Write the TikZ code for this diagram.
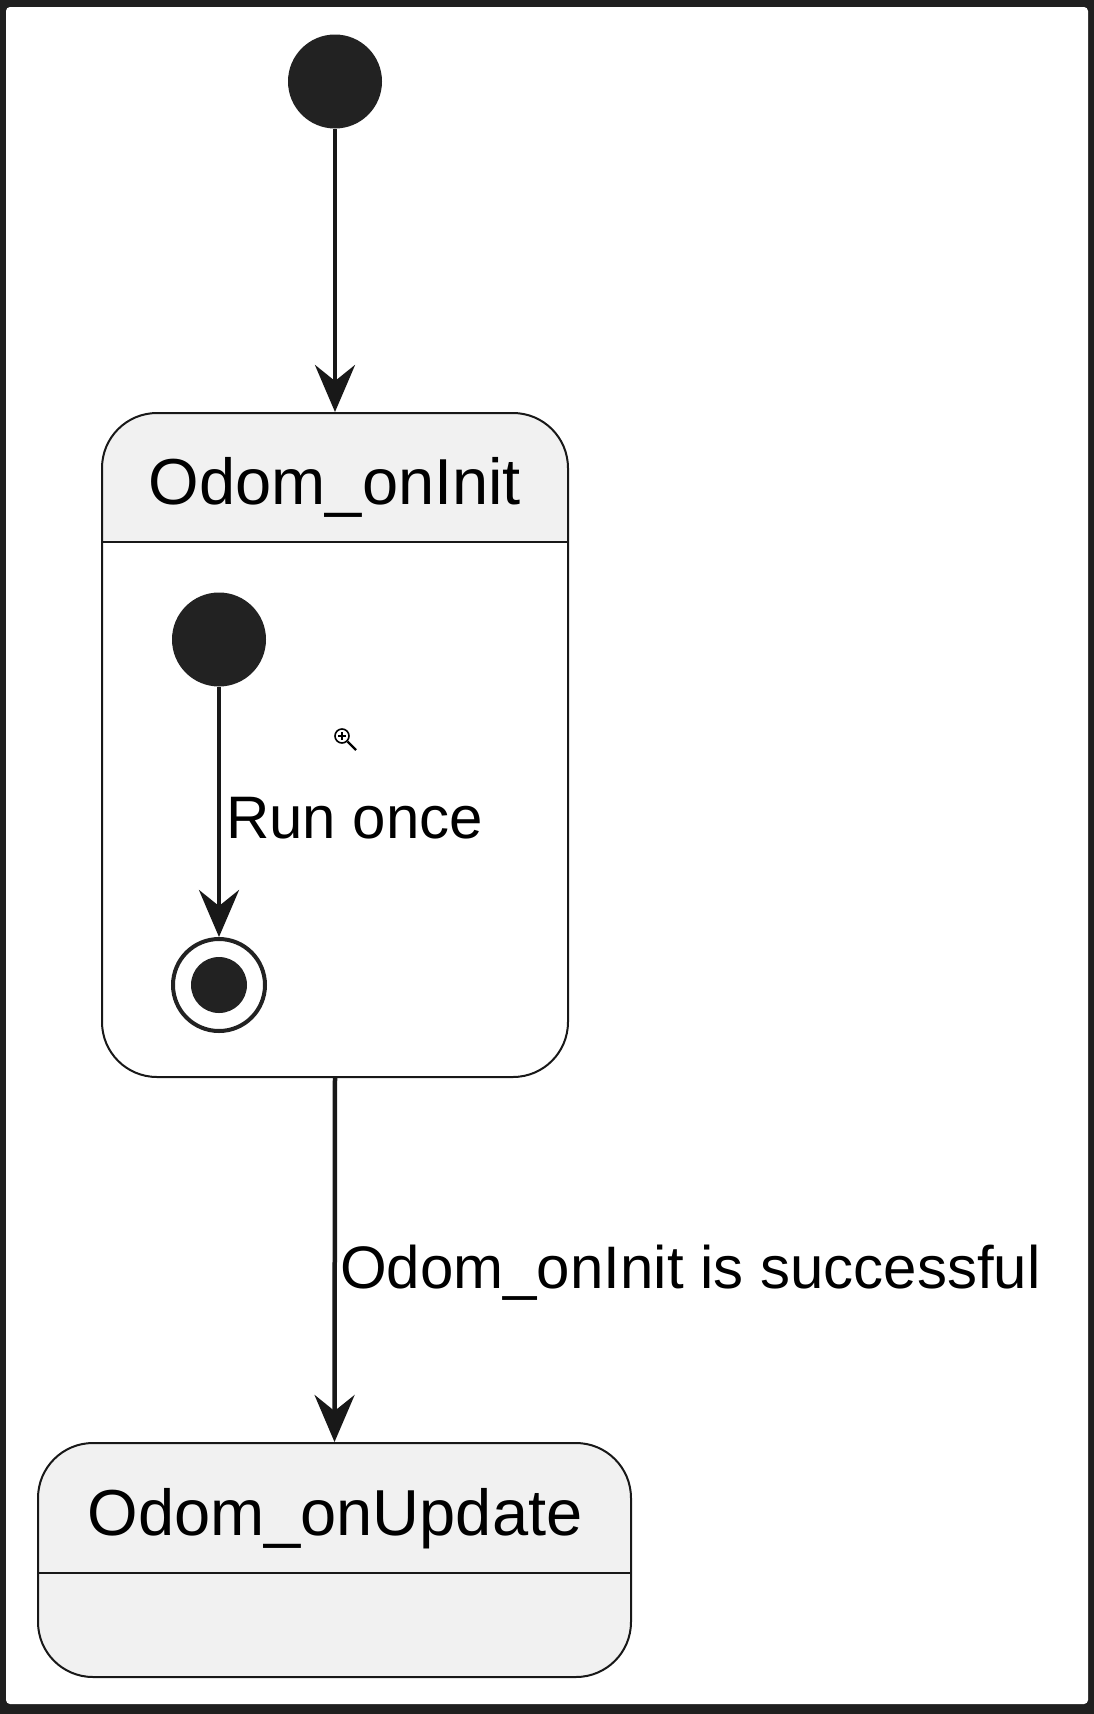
\documentclass[tikz,border=0pt]{standalone}
\usepackage{fontspec}
\setmainfont{Liberation Sans}
\usetikzlibrary{arrows.meta}
\definecolor{frame}{HTML}{1F1F1F}
\definecolor{ink}{HTML}{181818}
\definecolor{dot}{HTML}{222222}
\definecolor{hdr}{HTML}{F1F1F1}
\tikzset{
  initdot/.style={circle, fill=dot, draw=none, inner sep=0pt, minimum size=94pt},
  statebox/.style={draw=ink, line width=2pt, rounded corners=55pt, inner sep=0pt},
  titletext/.style={font=\fontsize{65}{78}\selectfont, inner sep=0pt, text=black},
  lbltext/.style={font=\fontsize{60}{72}\selectfont, inner sep=0pt, text=black},
  arr/.style={draw=ink, line width=4.5pt, -{Stealth[length=47pt,width=40pt,inset=16pt]}},
}
\begin{document}
\begin{tikzpicture}[x=1pt,y=-1pt]
\useasboundingbox (0,0) rectangle (1094,1714);
\fill[frame] (0,0) rectangle (1094,1714);
\fill[white, rounded corners=4pt] (6,7) rectangle (1088,1704);

% top initial
\node[initdot] (init1) at (335,81.5) {};

% Odom_onInit composite state
\node[statebox, fill=white, minimum width=466pt, minimum height=664pt,
  path picture={\fill[hdr, sharp corners] (path picture bounding box.north west) rectangle ([yshift=-129pt]path picture bounding box.north east);}]
  (oninit) at (335,745) {};
\draw[draw=ink, line width=2pt] (oninit.west |- 0,542) -- (oninit.east |- 0,542);
\node[titletext, anchor=base] (oninitTitle) at (335,504) {Odom\_onInit};

% inner initial and final
\node[initdot] (init2) at (219,639.5) {};
\node[circle, draw=dot, line width=4pt, fill=white, inner sep=0pt, minimum size=92pt] (final) at (219,985) {};
\node[circle, fill=dot, inner sep=0pt, minimum size=56pt] (finaldot) at (final.center) {};

% magnifier icon
\node[circle, draw=black, line width=1.6pt, inner sep=0pt, minimum size=14pt] (mag) at (342,736) {};
\draw[black, line width=2pt] ([xshift=-4pt]mag.center) -- ([xshift=4pt]mag.center)
  ([yshift=-4pt]mag.center) -- ([yshift=4pt]mag.center);
\coordinate (maghandle) at (356,750);
\draw[black, line width=2.4pt] (mag.south east) -- (maghandle);

% Odom_onUpdate
\node[statebox, fill=hdr, minimum width=593pt, minimum height=234pt] (onupdate) at (334.5,1560) {};
\draw[draw=ink, line width=2pt] (onupdate.west |- 0,1573) -- (onupdate.east |- 0,1573);
\node[titletext, anchor=base] (onupdateTitle) at (335,1535) {Odom\_onUpdate};

% connectors
\draw[arr] (init1.south) -- (oninit.north);
\draw[arr] (init2.south) -- (final.north);
\draw[arr] (oninit.south) -- (onupdate.north);

% labels
\node[lbltext, anchor=base west] (runonce) at (226,838) {Run once};
\node[lbltext, anchor=base west] (success) at (340,1288) {Odom\_onInit is successful};
\end{tikzpicture}
\end{document}
